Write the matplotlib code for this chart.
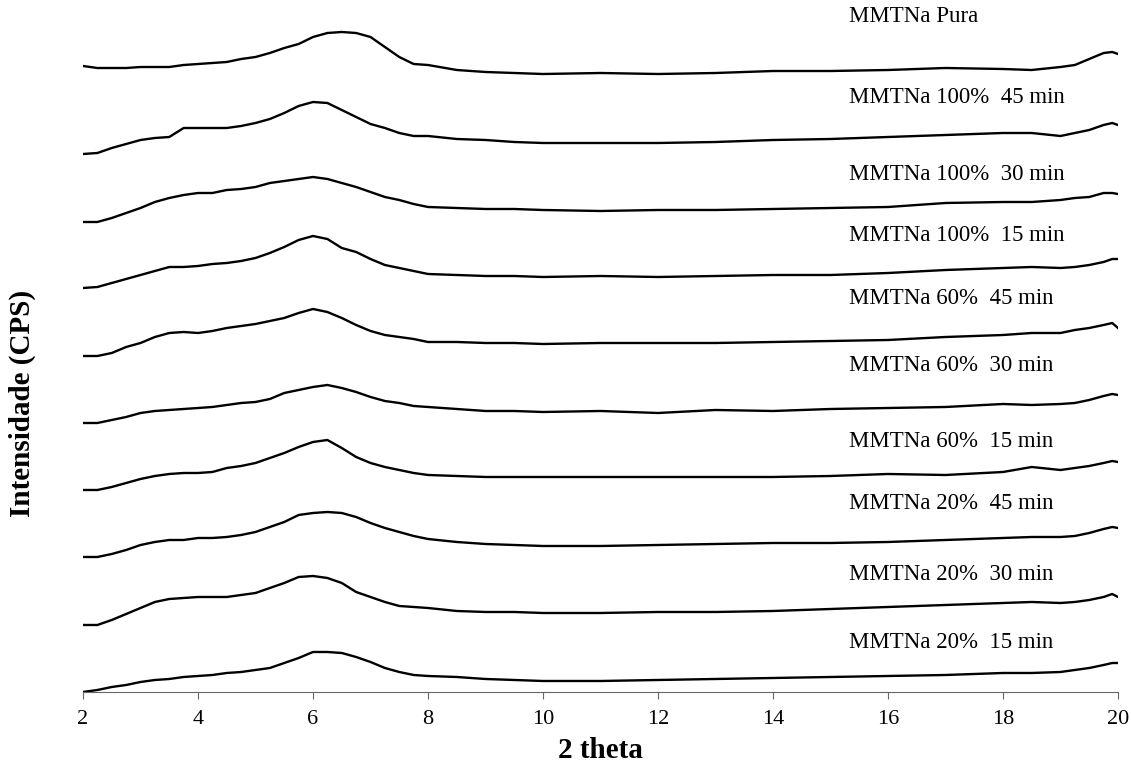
import matplotlib
matplotlib.use("Agg")
import matplotlib.pyplot as plt

plt.rcParams['font.family'] = ['Liberation Serif', 'DejaVu Serif']

# 2 theta sampling positions
two_theta = [2, 2.25, 2.5, 2.75, 3, 3.25, 3.5, 3.75, 4, 4.25, 4.5, 4.75,
             5, 5.25, 5.5, 5.75, 6, 6.25, 6.5, 6.75, 7, 7.25, 7.5, 7.75,
             8, 8.5, 9, 9.5, 10, 11, 12, 13,
             14, 15, 16, 17, 18, 18.5, 19, 19.25, 19.5, 19.75, 19.9, 20]

# stacked intensities (already offset, arbitrary units)
pura = [626, 624, 624, 624, 625, 625, 625, 627, 628, 629, 630, 633, 635, 639, 644, 648, 655, 659, 660, 659, 655, 645, 635, 628,
        627, 622, 620, 619, 618, 619, 618, 619, 621, 621, 622, 624, 623, 622, 625, 627, 633, 639, 640, 638]
p100_45 = [538, 539, 544, 548, 552, 554, 555, 564, 564, 564, 564, 566, 569, 573, 579, 586, 590, 589, 582, 575, 568, 564, 559, 556,
           556, 553, 552, 550, 549, 549, 549, 550, 552, 553, 555, 557, 559, 559, 556, 559, 562, 567, 569, 567]
p100_30 = [470, 470, 474, 479, 484, 490, 494, 497, 499, 499, 502, 503, 505, 509, 511, 513, 515, 513, 509, 505, 500, 495, 492, 488,
           485, 484, 483, 483, 482, 481, 482, 482, 483, 484, 485, 489, 490, 490, 492, 494, 495, 499, 499, 498]
p100_15 = [404, 405, 409, 413, 417, 421, 425, 425, 426, 428, 429, 431, 434, 439, 445, 452, 456, 453, 444, 440, 433, 427, 424, 421,
           418, 417, 416, 416, 415, 416, 415, 416, 417, 417, 419, 422, 424, 425, 424, 425, 427, 430, 433, 433]
p60_45 = [336, 336, 339, 345, 349, 355, 359, 360, 359, 361, 364, 366, 368, 371, 374, 379, 383, 380, 374, 367, 361, 357, 355, 353,
          350, 350, 349, 349, 348, 349, 349, 349, 350, 351, 352, 355, 357, 359, 359, 362, 364, 367, 369, 364]
p60_30 = [269, 269, 272, 275, 279, 281, 282, 283, 284, 285, 287, 289, 290, 293, 299, 302, 305, 307, 304, 300, 295, 291, 289, 286,
          285, 283, 281, 281, 280, 281, 279, 282, 281, 283, 284, 285, 288, 287, 288, 289, 292, 296, 298, 297]
p60_15 = [202, 202, 205, 209, 213, 216, 218, 219, 219, 220, 224, 226, 229, 234, 239, 245, 250, 252, 244, 235, 229, 225, 222, 219,
          217, 216, 215, 215, 215, 215, 215, 215, 215, 216, 218, 217, 220, 225, 222, 224, 226, 229, 231, 230]
p20_45 = [135, 135, 138, 142, 147, 150, 152, 152, 154, 154, 155, 157, 160, 165, 170, 177, 179, 180, 179, 175, 169, 164, 160, 156,
          153, 150, 148, 147, 146, 146, 147, 148, 149, 149, 150, 152, 154, 155, 155, 156, 159, 163, 165, 164]
p20_30 = [67, 67, 72, 78, 84, 90, 93, 94, 95, 95, 95, 97, 99, 104, 109, 115, 116, 114, 109, 100, 95, 90, 86, 85,
          84, 81, 80, 80, 79, 79, 80, 80, 81, 83, 85, 87, 89, 90, 89, 90, 92, 95, 98, 95]
p20_15 = [0, 2, 5, 7, 10, 12, 13, 15, 16, 17, 19, 20, 22, 24, 29, 34, 40, 40, 39, 35, 30, 24, 20, 17,
          16, 15, 13, 12, 11, 11, 12, 13, 14, 15, 16, 17, 19, 19, 20, 22, 24, 27, 29, 29]

series = [pura, p100_45, p100_30, p100_15, p60_45, p60_30, p60_15, p20_45, p20_30, p20_15]
labels = ["MMTNa Pura", "MMTNa 100%  45 min", "MMTNa 100%  30 min", "MMTNa 100%  15 min",
          "MMTNa 60%  45 min", "MMTNa 60%  30 min", "MMTNa 60%  15 min",
          "MMTNa 20%  45 min", "MMTNa 20%  30 min", "MMTNa 20%  15 min"]
label_y = [675, 594, 517, 456, 393, 326, 250, 188, 117, 49]
label_x = 15.32

fig = plt.figure(figsize=(11.31, 7.73), dpi=100)
ax = fig.add_axes([0.0734, 0.1048, 0.9151, 0.8952])

for s in series:
    ax.plot(two_theta, s, color='black', linewidth=1.7)

for lab, ly in zip(labels, label_y):
    ax.text(label_x, ly, lab, ha='left', va='center', fontsize=16.5)

ax.set_xlim(2, 20)
ax.set_ylim(0, 692)
ax.set_xticks(range(2, 21, 2))
ax.set_yticks([])
for side in ['left', 'top', 'right']:
    ax.spines[side].set_visible(False)
ax.spines['bottom'].set_color('#666666')
ax.tick_params(axis='x', direction='out', length=5, color='#666666', labelsize=16, pad=8)

ax.set_xlabel("2 theta", fontsize=21, fontweight='bold', labelpad=6)
fig.text(0.02, 0.4787, "Intensidade (CPS)", rotation=90, fontsize=21, fontweight='bold',
         ha='center', va='center')

fig.savefig("out.png", dpi=100)
